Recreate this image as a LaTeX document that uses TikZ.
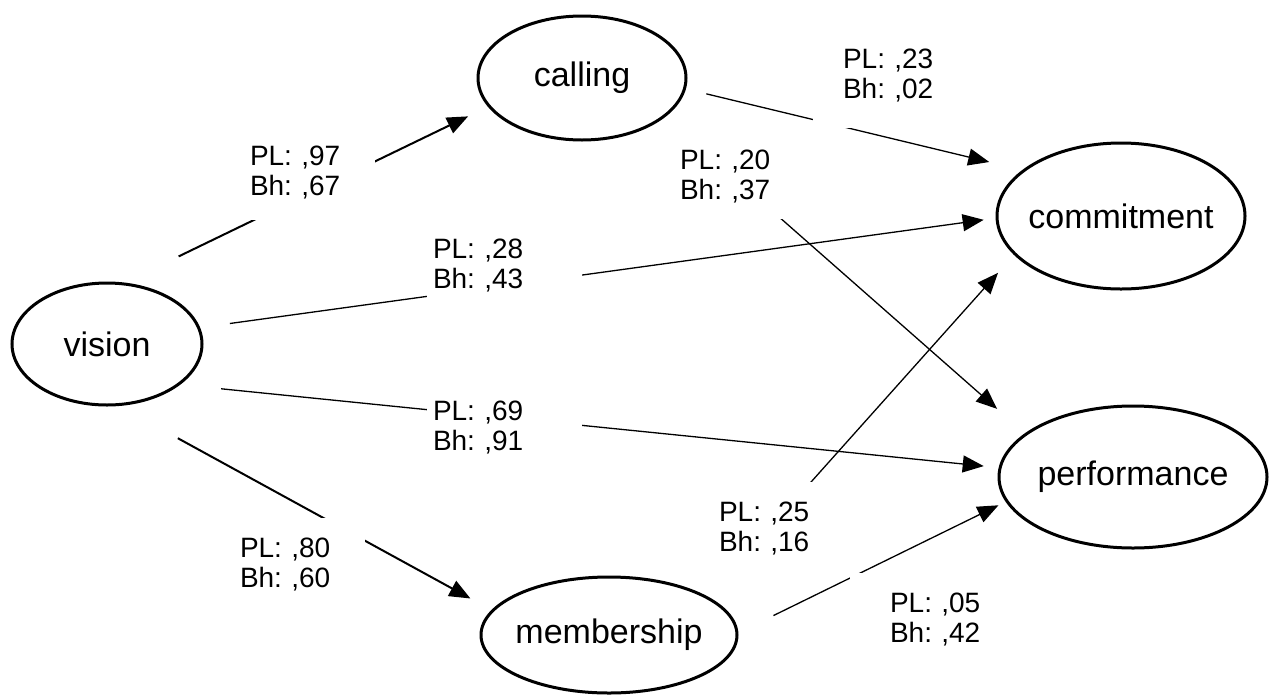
\documentclass[tikz,border=0pt]{standalone}
\usepackage{fontspec}
\setmainfont{Liberation Sans}
\usetikzlibrary{shapes.geometric, arrows.meta, positioning}

\tikzset{
  ell/.style = {draw, ellipse, line width=3pt, inner xsep=-30pt, inner ysep=0pt,
    on grid, font=\fontsize{34pt}{40pt}\selectfont},
  coef/.style = {fill=white, align=left, text width=95pt, inner xsep=30pt,
    inner ysep=20pt, font=\fontsize{28pt}{30pt}\selectfont\frenchspacing},
  coefwide/.style = {coef, text width=143pt, inner xsep=6pt},
  arr/.style = {->, line width=1.3pt},
  arrthick/.style = {->, line width=2pt},
}

\begin{document}
\begin{tikzpicture}[>={Triangle[length=21pt,width=17pt]}]

\useasboundingbox (0,0) rectangle (1269pt,-694pt);

\node[ell, minimum width=190pt, minimum height=122pt] (vision) at (107pt,-344pt) {vision};

\node[ell, minimum width=208pt, minimum height=124pt,
  above right = 266pt and 475pt of vision] (calling) {calling};

\node[ell, minimum width=248pt, minimum height=146pt,
  below right = 138pt and 539pt of calling] (commitment) {commitment};

\node[ell, minimum width=268pt, minimum height=142pt,
  below right = 261pt and 12pt of commitment] (performance) {performance};

\node[ell, minimum width=256pt, minimum height=116pt,
  below right = 291pt and 502pt of vision] (membership) {membership};

\draw[arrthick, shorten <=60pt, shorten >=22pt] (vision.74.4)  -- (calling.197.7);
\draw[arr, shorten <=30pt, shorten >=12pt] (vision.10.5)  -- (commitment.181.1);
\draw[arr, shorten <=41pt, shorten >=15pt] (vision.331.2) -- (performance.176.8);
\draw[arrthick, shorten <=67pt, shorten >=24pt] (vision.281.8) -- (membership.168.9);

\draw[arr, shorten <=21pt, shorten >=34pt] (calling.354.5) -- (commitment.155.8);
\draw[arr, shorten <=32pt, shorten >=37pt] (calling.335)   -- (performance.158.4);

\draw[arr, shorten <=30pt, shorten >=24pt] (membership.21.1) -- (commitment.200.1);
\draw[arr, shorten <=39pt, shorten >=8pt]  (membership.1.9)  -- (performance.191);

% coefficients
\node[coef] (pvc) at (297.5pt,-173pt) {PL: ,97\\Bh: ,67};
\node[coef, inner ysep=25pt] (pcc) at (890.5pt,-76pt) {PL: ,23\\Bh: ,02};
\node[coef, inner ysep=15pt] (pcp) at (727.5pt,-177pt) {PL: ,20\\Bh: ,37};
\node[coefwide] (pvco) at (504.5pt,-266pt) {PL: ,28\\Bh: ,43};
\node[coefwide] (pvp) at (504.5pt,-428pt) {PL: ,69\\Bh: ,91};
\node[coef, inner xsep=40pt] (pmc) at (766.5pt,-529pt) {PL: ,25\\Bh: ,16};
\node[coef] (pvm) at (287.5pt,-565pt) {PL: ,80\\Bh: ,60};
\node[coef, inner xsep=40pt] (pmp) at (937.5pt,-620pt) {PL: ,05\\Bh: ,42};

\end{tikzpicture}
\end{document}
